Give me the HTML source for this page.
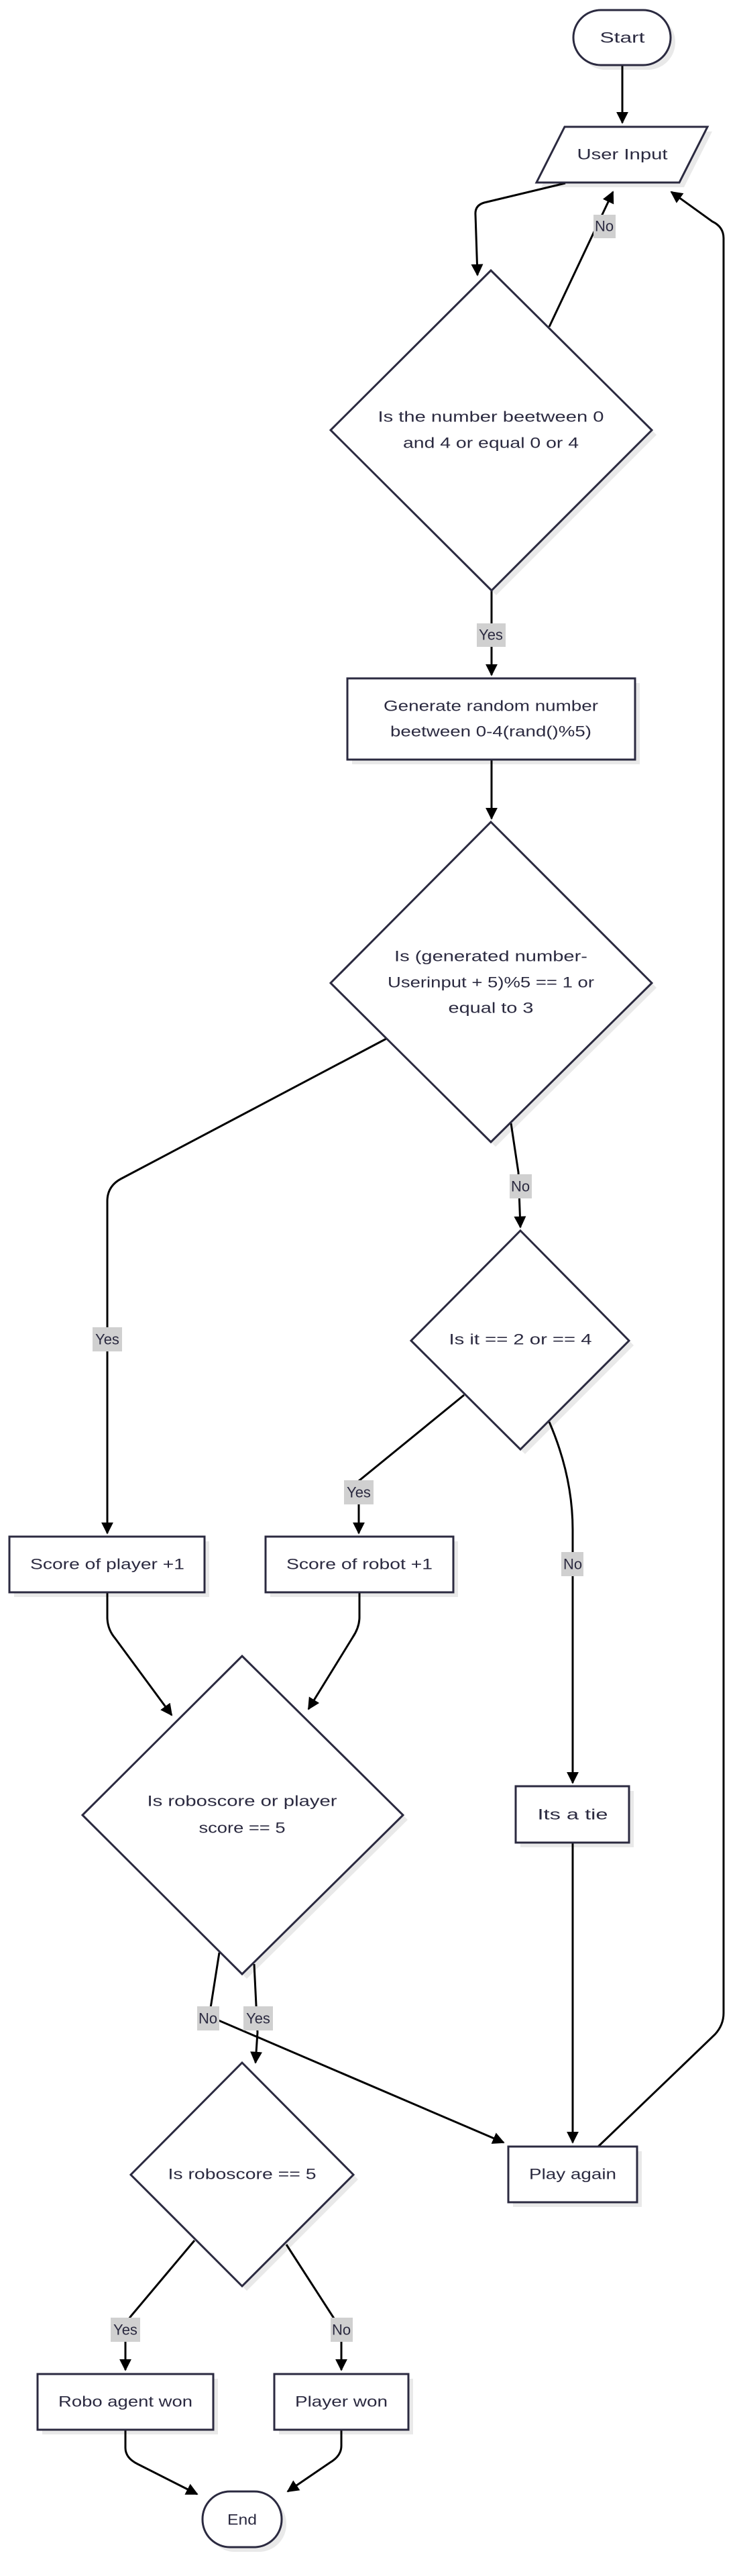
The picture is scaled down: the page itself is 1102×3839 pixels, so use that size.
<!DOCTYPE html>
<html><head><meta charset="utf-8"><style>
html,body{margin:0;padding:0;background:#fff;}
svg{display:block;}
text{font-family:"Liberation Sans",sans-serif;font-size:22px;fill:#2b2a40;text-anchor:middle;dominant-baseline:central;}
.n{fill:#fff;stroke:#2b2a40;stroke-width:3;}
.s{fill:#e9e9e9;stroke:none;}
.e{fill:none;stroke:#000;stroke-width:3;}
.lb{fill:#d0d0d0;}
</style></head><body>
<svg width="1102" height="3839" viewBox="0 0 1102 3839" xmlns="http://www.w3.org/2000/svg">
<defs>
<marker id="a" viewBox="0 0 10 10" refX="9" refY="5" markerWidth="18" markerHeight="18" markerUnits="userSpaceOnUse" orient="auto">
<path d="M0,0 L10,5 L0,10 z" fill="#000"/></marker>
</defs>

<!-- shadows -->
<g class="s" transform="translate(7,7)">
<rect x="855" y="15" width="145" height="82" rx="41"/>
<polygon points="842,189 1055,189 1013,272 800,272"/>
<polygon points="732,403 972,641 733,880 493,641"/>
<rect x="518" y="1011" width="429" height="121"/>
<polygon points="732,1225 972,1465 732,1702 493,1465"/>
<polygon points="776,1834 938,1998 776,2160 613,1998"/>
<rect x="14" y="2290" width="291" height="83"/>
<rect x="396" y="2290" width="280" height="83"/>
<polygon points="361,2468 601,2705 361,2942 123,2705"/>
<rect x="769" y="2662" width="169" height="84"/>
<rect x="758" y="3199" width="192" height="83"/>
<polygon points="361,3074 527,3241 361,3407 195,3241"/>
<rect x="56" y="3538" width="262" height="83"/>
<rect x="409" y="3538" width="200" height="83"/>
<rect x="302" y="3713" width="118" height="83" rx="41"/>
</g>

<!-- edges -->
<g class="e" marker-end="url(#a)">
<path d="M928,97 L928,183"/>
<path d="M843,273 L722,302 Q708,306 709,320 L712,410"/>
<path d="M819,487 L914,286"/>
<path d="M733,880 L733,1006"/>
<path d="M733,1132 L733,1220"/>
<path d="M576,1548 L180,1757 Q160,1768 160,1790 L160,2285"/>
<path d="M762,1674 L773,1747 L776,1829"/>
<path d="M692,2079 L535,2207 L535,2285"/>
<path d="M819,2119 Q854,2200 854,2280 L854,2657"/>
<path d="M160,2373 L160,2410 Q160,2428 172,2442 L256,2556"/>
<path d="M536,2373 L536,2410 Q536,2425 526,2440 L460,2547"/>
<path d="M854,2746 L854,3193"/>
<path d="M892,3199 L1066,3032 Q1079,3018 1079,3000 L1079,355 Q1079,338 1062,330 L1001,286"/>
<path d="M327,2910 L312,3005 L751,3193"/>
<path d="M379,2927 L384,3029 L381,3074"/>
<path d="M290,3339 L195,3452 Q187,3462 187,3475 L187,3532"/>
<path d="M427,3345 L498,3455 Q509,3470 509,3485 L509,3532"/>
<path d="M187,3621 L187,3648 Q187,3663 205,3672 L294,3717"/>
<path d="M509,3621 L509,3645 Q509,3660 492,3670 L429,3713"/>
</g>

<!-- nodes -->
<rect class="n" x="855" y="15" width="145" height="82" rx="41"/>
<text x="928" y="56" textLength="67" lengthAdjust="spacingAndGlyphs">Start</text>
<polygon class="n" points="842,189 1055,189 1013,272 800,272"/>
<text x="928" y="230" textLength="135" lengthAdjust="spacingAndGlyphs">User Input</text>
<polygon class="n" points="732,403 972,641 733,880 493,641"/>
<text x="732" y="621" textLength="337" lengthAdjust="spacingAndGlyphs">Is the number beetween 0</text>
<text x="732" y="660" textLength="262" lengthAdjust="spacingAndGlyphs">and 4 or equal 0 or 4</text>
<rect class="n" x="518" y="1011" width="429" height="121"/>
<text x="732" y="1052" textLength="320" lengthAdjust="spacingAndGlyphs">Generate random number</text>
<text x="732" y="1090" textLength="300" lengthAdjust="spacingAndGlyphs">beetween 0-4(rand()%5)</text>
<polygon class="n" points="732,1225 972,1465 732,1702 493,1465"/>
<text x="732" y="1425" textLength="288" lengthAdjust="spacingAndGlyphs">Is (generated number-</text>
<text x="732" y="1464" textLength="308" lengthAdjust="spacingAndGlyphs">Userinput + 5)%5 == 1 or</text>
<text x="732" y="1502" textLength="127" lengthAdjust="spacingAndGlyphs">equal to 3</text>
<polygon class="n" points="776,1834 938,1998 776,2160 613,1998"/>
<text x="776" y="1996" textLength="213" lengthAdjust="spacingAndGlyphs">Is it == 2 or == 4</text>
<rect class="n" x="14" y="2290" width="291" height="83"/>
<text x="160" y="2331" textLength="230" lengthAdjust="spacingAndGlyphs">Score of player +1</text>
<rect class="n" x="396" y="2290" width="280" height="83"/>
<text x="536" y="2331" textLength="218" lengthAdjust="spacingAndGlyphs">Score of robot +1</text>
<polygon class="n" points="361,2468 601,2705 361,2942 123,2705"/>
<text x="361" y="2684" textLength="283" lengthAdjust="spacingAndGlyphs">Is roboscore or player</text>
<text x="361" y="2724" textLength="129" lengthAdjust="spacingAndGlyphs">score == 5</text>
<rect class="n" x="769" y="2662" width="169" height="84"/>
<text x="854" y="2704" textLength="105" lengthAdjust="spacingAndGlyphs">Its a tie</text>
<rect class="n" x="758" y="3199" width="192" height="83"/>
<text x="854" y="3240" textLength="130" lengthAdjust="spacingAndGlyphs">Play again</text>
<polygon class="n" points="361,3074 527,3241 361,3407 195,3241"/>
<text x="361" y="3240" textLength="221" lengthAdjust="spacingAndGlyphs">Is roboscore == 5</text>
<rect class="n" x="56" y="3538" width="262" height="83"/>
<text x="187" y="3579" textLength="200" lengthAdjust="spacingAndGlyphs">Robo agent won</text>
<rect class="n" x="409" y="3538" width="200" height="83"/>
<text x="509" y="3579" textLength="138" lengthAdjust="spacingAndGlyphs">Player won</text>
<rect class="n" x="302" y="3713" width="118" height="83" rx="41"/>
<text x="361" y="3755" textLength="44" lengthAdjust="spacingAndGlyphs">End</text>

<!-- edge labels -->
<g>
<rect class="lb" x="885" y="320" width="33" height="35"/><text x="901" y="337">No</text>
<rect class="lb" x="711" y="929" width="43" height="35"/><text x="732" y="946">Yes</text>
<rect class="lb" x="138" y="1978" width="44" height="36"/><text x="160" y="1996">Yes</text>
<rect class="lb" x="760" y="1750" width="33" height="36"/><text x="776" y="1768">No</text>
<rect class="lb" x="513" y="2206" width="44" height="36"/><text x="535" y="2224">Yes</text>
<rect class="lb" x="837" y="2313" width="33" height="36"/><text x="854" y="2331">No</text>
<rect class="lb" x="294" y="2990" width="33" height="36"/><text x="310" y="3008">No</text>
<rect class="lb" x="363" y="2990" width="44" height="36"/><text x="385" y="3008">Yes</text>
<rect class="lb" x="165" y="3454" width="44" height="36"/><text x="187" y="3472">Yes</text>
<rect class="lb" x="493" y="3454" width="33" height="36"/><text x="509" y="3472">No</text>
</g>
</svg>
</body></html>
